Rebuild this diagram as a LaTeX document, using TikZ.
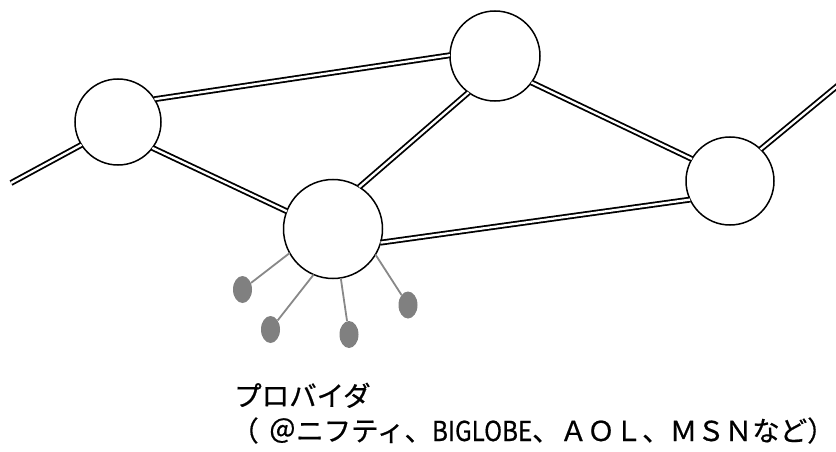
\documentclass[tikz,border=0pt]{standalone}
\usepackage{fontspec}
\newfontfamily\jpfont[FakeBold=0.6]{Noto Sans CJK JP}
\usepackage{graphicx}

\tikzset{
  router/.style={circle, draw=black, line width=1.5pt, fill=white, inner sep=0pt, outer sep=0pt},
  host/.style={ellipse, fill=hostgray, inner sep=0pt, minimum width=19pt, minimum height=27pt},
  trunk/.style={draw=black, line width=1.8pt, double=white, double distance=2.3pt},
  spur/.style={draw=spurgray, line width=1.8pt},
  caption/.style={anchor=base west, inner sep=0pt, font=\jpfont\fontsize{27.5pt}{32pt}\selectfont}
}
\definecolor{hostgray}{HTML}{808080}
\definecolor{spurgray}{HTML}{888888}
\usetikzlibrary{shapes.geometric}

\begin{document}
\begin{tikzpicture}[x=1pt, y=-1pt]
  \useasboundingbox (0,0) rectangle (836,452);

  % routers of the backbone
  \node[router, minimum size=86pt] (A) at (118,122) {};
  \node[router, minimum size=90pt] (B) at (495,56) {};
  \node[router, minimum size=88pt] (C) at (730,181) {};
  \node[router, minimum size=99pt] (D) at (333,229) {};

  % loose ends of the backbone
  \coordinate (westend) at (11,183);
  \coordinate (eastend) at (850,75.5);

  % backbone links
  \draw[trunk] (westend) -- (A.212);
  \draw[trunk] (A.32) -- (B.179);
  \draw[trunk] (A.323) -- (D.159);
  \draw[trunk] (D.58) -- (B.234);
  \draw[trunk] (B.324) -- (C.150);
  \draw[trunk] (D.344) -- (C.205);
  \draw[trunk] (C.46) -- (eastend);

  % subscribers of the provider
  \node[host] (h1) at (242.5,289.5) {};
  \node[host] (h2) at (270.5,329.5) {};
  \node[host] (h3) at (349,334.5) {};
  \node[host] (h4) at (408,305) {};

  \draw[spur] (D.209) -- (h1);
  \draw[spur] (D.247) -- (h2);
  \draw[spur] (D.279) -- (h3);
  \draw[spur] (D.329) -- (h4);

  % labels
  \node[caption] (t1) at (234,406) {プロバイダ};
  \node[caption] (t2) at (231,441) {（\hspace{10pt}＠ニフティ、\scalebox{0.88}[1]{BIGLOBE}、ＡＯＬ、ＭＳＮなど）};
\end{tikzpicture}
\end{document}
